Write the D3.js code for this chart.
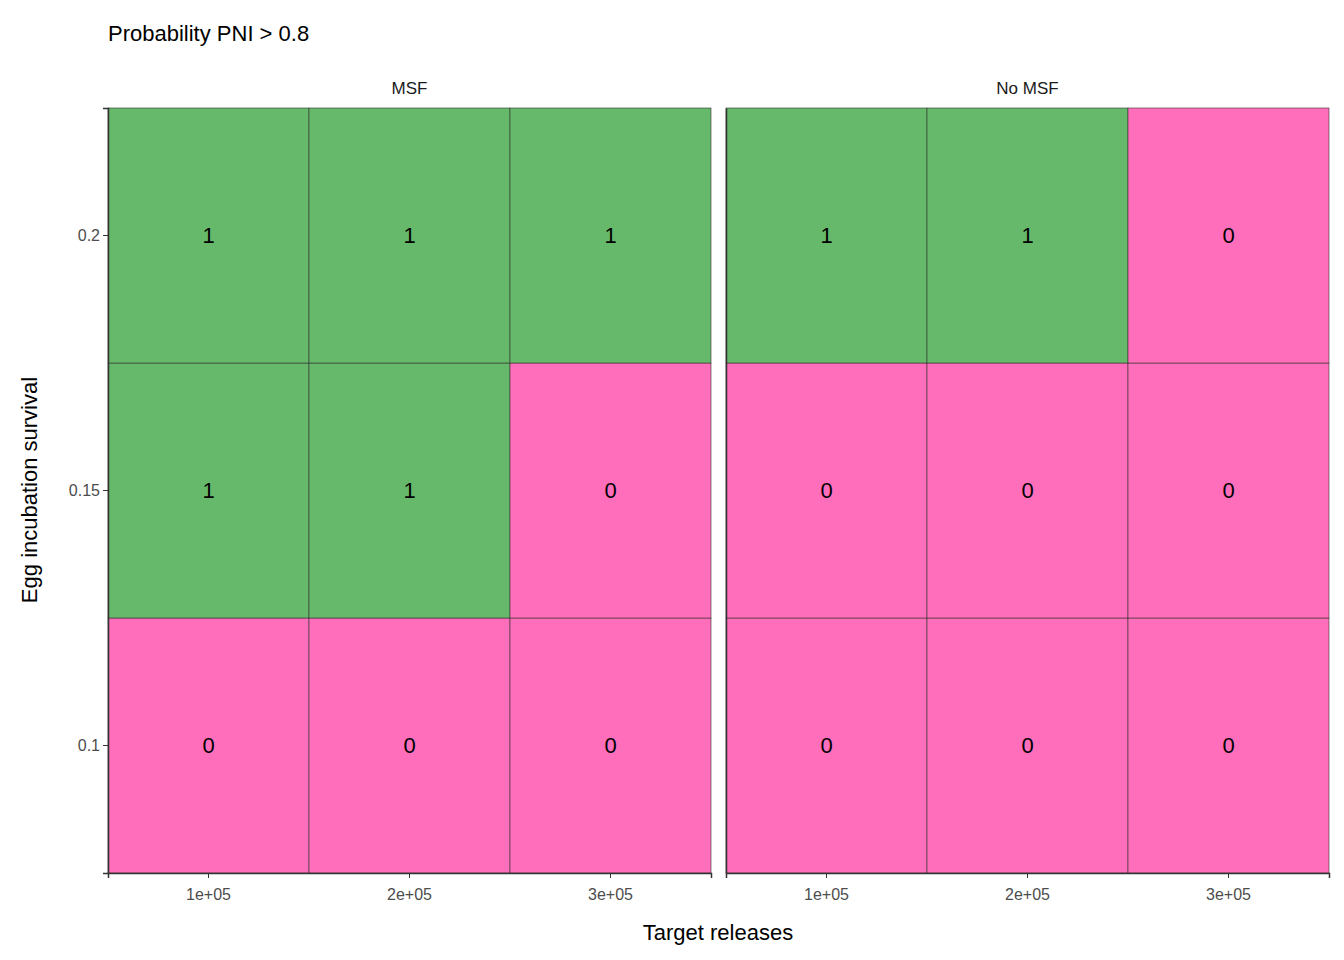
<!DOCTYPE html>
<html><head><meta charset="utf-8">
<script src="https://cdn.jsdelivr.net/npm/d3@7.9.0/dist/d3.min.js"></script>
<style>body{margin:0;background:#fff;font-family:Arial,"Liberation Sans",sans-serif;}</style>
</head><body>
<svg id="chart" width="1344" height="960"></svg>
<script>
const facets = ['MSF', 'No MSF'];
const releases = [100000, 200000, 300000];
const releaseLabels = ['1e+05', '2e+05', '3e+05'];
const survival = [0.1, 0.15, 0.2];
// values per facet: rows = survival (0.1, 0.15, 0.2), cols = releases
const msfValues = [[0, 0, 0], [1, 1, 0], [1, 1, 1]];
const noMsfValues = [[0, 0, 0], [0, 0, 0], [1, 1, 0]];
const facetValues = [msfValues, noMsfValues];

const svg = d3.select('#chart');
const panelX = [108, 726], panelW = 603, plotTop = 108, plotBottom = 873;

const color = d3.scaleOrdinal().domain([0, 1]).range(['#FF6EBA', '#66B96A']);

svg.append('text').attr('x', 108).attr('y', 41).attr('font-size', 22).text('Probability PNI > 0.8');

const y = d3.scaleBand().domain(survival).range([plotBottom, plotTop]);

facets.forEach((name, f) => {
  const x = d3.scaleBand().domain(releases).range([panelX[f], panelX[f] + panelW]);
  const g = svg.append('g');
  const cells = [];
  survival.forEach((s, i) => releases.forEach((r, j) => cells.push({s, r, v: facetValues[f][i][j]})));
  g.selectAll('rect').data(cells).join('rect')
    .attr('x', d => x(d.r)).attr('y', d => y(d.s))
    .attr('width', x.bandwidth()).attr('height', y.bandwidth())
    .attr('fill', d => color(d.v)).attr('stroke', '#333').attr('stroke-width', 0.6);
  g.selectAll('text.v').data(cells).join('text').attr('class', 'v')
    .attr('x', d => x(d.r) + x.bandwidth() / 2).attr('y', d => y(d.s) + y.bandwidth() / 2)
    .attr('text-anchor', 'middle').attr('dy', '0.36em').attr('font-size', 22).text(d => d.v);

  svg.append('text').attr('x', panelX[f] + panelW / 2).attr('y', 94)
    .attr('text-anchor', 'middle').attr('font-size', 17).attr('fill', '#1a1a1a').text(name);

  const xa = svg.append('g').attr('transform', `translate(0,${plotBottom})`)
    .call(d3.axisBottom(x).tickSize(5).tickFormat((d, i) => releaseLabels[i]));
  xa.select('.domain').attr('stroke', '#333').attr('stroke-width', 1.5);
  xa.selectAll('.tick line').attr('stroke', '#333');
  xa.selectAll('text').attr('font-size', 16).attr('fill', '#4d4d4d').attr('dy', '1.2em')
    .style('font-family', 'Arial,"Liberation Sans",sans-serif');

  const ya = svg.append('g').attr('transform', `translate(${panelX[f]},0)`)
    .call(d3.axisLeft(y).tickSize(f === 0 ? 5 : 0).tickFormat(d => f === 0 ? d : ''));
  ya.select('.domain').attr('stroke', '#333').attr('stroke-width', 1.5);
  ya.selectAll('.tick line').attr('stroke', '#333');
  ya.selectAll('text').attr('font-size', 16).attr('fill', '#4d4d4d')
    .style('font-family', 'Arial,"Liberation Sans",sans-serif');
});

svg.append('text').attr('x', 718).attr('y', 940).attr('text-anchor', 'middle')
  .attr('font-size', 22).text('Target releases');
svg.append('text').attr('transform', 'translate(37,490) rotate(-90)').attr('text-anchor', 'middle')
  .attr('font-size', 22).text('Egg incubation survival');
</script>
</body></html>
